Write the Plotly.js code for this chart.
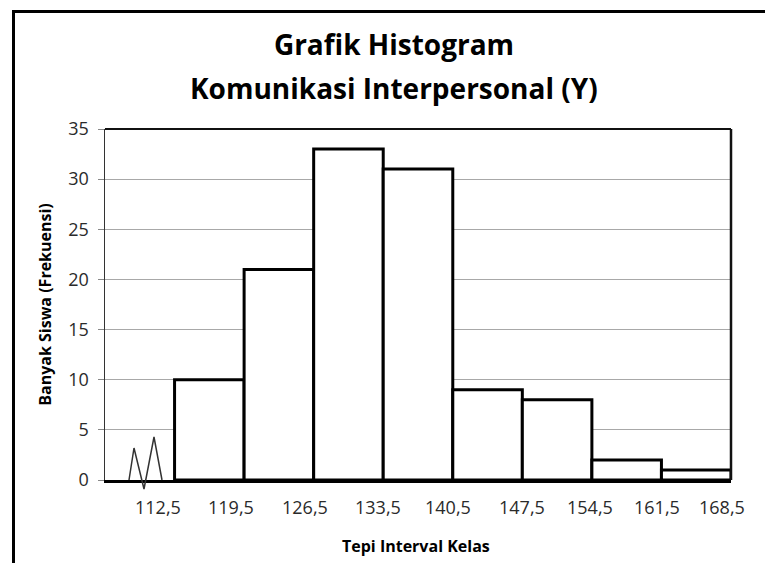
<!DOCTYPE html>
<html>
<head>
<meta charset="utf-8">
<script src="https://cdn.plot.ly/plotly-3.0.1.min.js"></script>
<style>html,body{margin:0;padding:0;background:#fff;}#chart{width:765px;height:563px;}</style>
</head>
<body>
<div id="chart"></div>
<script>
// ---- data ----
var titleLines = ['Grafik Histogram', 'Komunikasi Interpersonal (Y)'];
var xTitle = 'Tepi Interval Kelas';
var yTitle = 'Banyak Siswa (Frekuensi)';
var edgeLabels = ['112,5', '119,5', '126,5', '133,5', '140,5', '147,5', '154,5', '161,5', '168,5'];
var edges = [112.5, 119.5, 126.5, 133.5, 140.5, 147.5, 154.5, 161.5, 168.5];
var frequencies = [10, 21, 33, 31, 9, 8, 2, 1];

// ---- derived ----
var mids = [], widths = [];
for (var i = 0; i < frequencies.length; i++) {
  mids.push((edges[i] + edges[i + 1]) / 2);
  widths.push(edges[i + 1] - edges[i]);
}
var binW = edges[1] - edges[0];
var xMin = edges[0] - binW, xMax = edges[edges.length - 1];

// label nudges (layout only, in axis units) to match the hand-placed labels
var nudge = [-1.7, -1.3, -0.9, -0.55, -0.5, 0, -0.2, -0.4, -0.9];

var F = '"Open Sans", "Noto Sans", sans-serif';
var annotations = edgeLabels.map(function (t, k) {
  return {
    text: t, x: edges[k] + nudge[k], xref: 'x', y: -0.077, yref: 'paper',
    xanchor: 'center', yanchor: 'middle', showarrow: false,
    font: {family: F, size: 18, color: '#2a2a2a'}
  };
});
annotations.push({
  text: '<b>' + titleLines[1] + '</b>', xref: 'paper', x: (394 - 105) / 626,
  yref: 'paper', y: (480 - 88) / 351, xanchor: 'center', yanchor: 'middle',
  showarrow: false, font: {family: F, size: 28, color: '#000'}
});
annotations.push({
  text: '<b>' + xTitle + '</b>', xref: 'paper', x: (416 - 105) / 626,
  yref: 'paper', y: (480 - 546) / 351, xanchor: 'center', yanchor: 'middle',
  showarrow: false, font: {family: F, size: 16, color: '#000'}
});

var shapes = [
  // outer frame
  {type: 'rect', xref: 'paper', yref: 'paper', x0: (13.5 - 105) / 626, x1: 1.2,
   y0: -0.4, y1: (480 - 11.5) / 351, line: {color: '#000', width: 3}, layer: 'below'},
  // plot area top and right border
  {type: 'line', xref: 'paper', yref: 'paper', x0: 0, x1: 1, y0: 1, y1: 1,
   line: {color: '#111', width: 2}},
  {type: 'line', xref: 'paper', yref: 'paper', x0: 1, x1: 1, y0: 0, y1: 1,
   line: {color: '#111', width: 2.5}},
  // axis break zigzag
  {type: 'path', xref: 'paper', yref: 'paper',
   path: 'M ' + ((129 - 105) / 626) + ',0 L ' + ((134 - 105) / 626) + ',' + ((480 - 448) / 351) +
         ' L ' + ((144 - 105) / 626) + ',' + ((480 - 489) / 351) +
         ' L ' + ((154 - 105) / 626) + ',' + ((480 - 437) / 351) +
         ' L ' + ((162 - 105) / 626) + ',0',
   line: {color: '#333', width: 1.5}}
];

var trace = {
  type: 'bar', x: mids, y: frequencies, width: widths,
  marker: {color: '#ffffff', line: {color: '#000000', width: 3}},
  hoverinfo: 'x+y', showlegend: false
};

var layout = {
  width: 765, height: 563,
  margin: {l: 105, r: 34, t: 129, b: 83},
  paper_bgcolor: '#ffffff', plot_bgcolor: '#ffffff',
  title: {text: '<b>' + titleLines[0] + '</b>', xref: 'container', x: 394 / 765,
          xanchor: 'center', yref: 'container', y: 1 - 45 / 563, yanchor: 'middle',
          font: {family: F, size: 28, color: '#000'}},
  xaxis: {range: [xMin, xMax], showgrid: false, zeroline: false, showticklabels: false,
          ticks: '', showline: true, linecolor: '#000', linewidth: 3},
  yaxis: {range: [0, 35], dtick: 5, tick0: 0, showgrid: true, gridcolor: '#a8a8a8', gridwidth: 1,
          zeroline: false, showline: true, linecolor: '#333', linewidth: 1.5,
          ticks: 'outside', ticklen: 6, tickcolor: '#888', tickwidth: 1,
          ticklabelstandoff: 5,
          tickfont: {family: F, size: 18, color: '#2a2a2a'},
          title: {text: '<b>' + yTitle + '</b>', standoff: 12,
                  font: {family: F, size: 16, color: '#000'}}},
  bargap: 0,
  annotations: annotations,
  shapes: shapes
};

Plotly.newPlot('chart', [trace], layout, {displayModeBar: false, staticPlot: true});
</script>
</body>
</html>
